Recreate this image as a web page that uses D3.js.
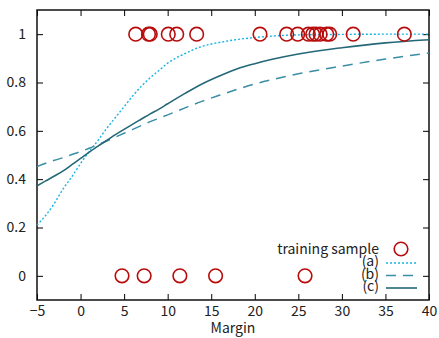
<!DOCTYPE html>
<html>
<head>
<meta charset="utf-8">
<script src="https://cdn.jsdelivr.net/npm/d3@7"></script>
<style>
  body { margin: 0; background: #fff; }
  svg { display: block; font-family: "Noto Sans CJK JP", "Noto Sans", sans-serif; }
</style>
</head>
<body>
<div id="chart"></div>
<script>
// training samples (margin, label)
const posSamples = [6.33, 7.8, 8.0, 10.07, 11.04, 13.33, 20.6, 23.66, 24.93, 26.15, 26.65, 27.03, 27.5, 28.26, 28.6, 31.3, 37.17];
const negSamples = [4.76, 7.3, 11.4, 15.5, 25.77];

const curveX = [-5, -4, -3, -2, -1, 0, 1, 2, 3, 4, 5, 6, 7, 8, 9, 10, 12, 14, 16, 18, 20, 22, 25, 30, 35, 40];
const curveA = [0.21, 0.25, 0.30, 0.36, 0.41, 0.465, 0.515, 0.56, 0.61, 0.655, 0.70, 0.745, 0.785, 0.82, 0.85, 0.88, 0.92, 0.95, 0.966, 0.978, 0.986, 0.992, 0.997, 0.999, 1.0, 1.0];
const curveB = [0.452, 0.466, 0.478, 0.489, 0.502, 0.514, 0.528, 0.543, 0.558, 0.574, 0.59, 0.606, 0.622, 0.638, 0.652, 0.666, 0.695, 0.723, 0.748, 0.772, 0.794, 0.812, 0.836, 0.868, 0.897, 0.922];
const curveC = [0.372, 0.393, 0.413, 0.434, 0.46, 0.486, 0.512, 0.537, 0.56, 0.584, 0.606, 0.628, 0.649, 0.67, 0.69, 0.712, 0.755, 0.795, 0.828, 0.857, 0.878, 0.896, 0.918, 0.944, 0.964, 0.977];

const xTicks = [-5, 0, 5, 10, 15, 20, 25, 30, 35, 40];
const yTicks = [0, 0.2, 0.4, 0.6, 0.8, 1];

const series = [
  { name: '(a)', values: curveA, color: '#19b3e3', dash: '2,2', width: 1.4 },
  { name: '(b)', values: curveB, color: '#3a8da6', dash: '10,7', width: 1.5 },
  { name: '(c)', values: curveC, color: '#246878', dash: null, width: 1.6 }
];

const width = 439, height = 338;
const margin = { top: 10, right: 10, bottom: 38, left: 37 };
const innerWidth = width - margin.left - margin.right;
const innerHeight = height - margin.top - margin.bottom;

const svg = d3.select('#chart').append('svg')
  .attr('width', width)
  .attr('height', height);

const g = svg.append('g')
  .attr('transform', `translate(${margin.left},${margin.top})`);

const x = d3.scaleLinear().domain([-5, 40]).range([0, innerWidth]);
const y = d3.scaleLinear().domain([-0.1, 1.1]).range([innerHeight, 0]);

// axes with inward ticks
const tickLen = 6;
const xAxis = g.append('g')
  .attr('transform', `translate(0,${innerHeight})`)
  .call(d3.axisBottom(x).tickValues(xTicks).tickSize(-tickLen).tickPadding(tickLen + 5).tickFormat(d => d < 0 ? '\u2212' + Math.abs(d) : d));
const xTop = g.append('g')
  .call(d3.axisTop(x).tickValues(xTicks).tickSize(-tickLen).tickFormat(''));
const yAxis = g.append('g')
  .call(d3.axisLeft(y).tickValues(yTicks).tickSize(-tickLen).tickPadding(tickLen + 5).tickFormat(d => d));
const yRight = g.append('g')
  .attr('transform', `translate(${innerWidth},0)`)
  .call(d3.axisRight(y).tickValues(yTicks).tickSize(-tickLen).tickFormat(''));

[xAxis, xTop, yAxis, yRight].forEach(axis => {
  axis.select('.domain').remove();
  axis.selectAll('line').style('stroke', '#000').style('stroke-width', 1);
  axis.selectAll('text')
    .style('fill', '#222')
    .style('font-size', '14px')
    .style('font-family', '"Noto Sans CJK JP", "Noto Sans", sans-serif');
});
xAxis.selectAll('text').attr('dy', '0.35em').attr('y', 11);

// frame
g.append('rect')
  .attr('width', innerWidth)
  .attr('height', innerHeight)
  .attr('fill', 'none')
  .attr('stroke', '#111')
  .attr('stroke-width', 1.5);

// axis label
g.append('text')
  .attr('x', innerWidth / 2)
  .attr('y', innerHeight + 33)
  .attr('text-anchor', 'middle')
  .style('fill', '#222')
  .style('font-size', '14px')
  .text('Margin');

// curves
const line = d3.line()
  .x((d, i) => x(curveX[i]))
  .y(d => y(d))
  .curve(d3.curveMonotoneX);

series.forEach(s => {
  g.append('path')
    .datum(s.values)
    .attr('fill', 'none')
    .attr('stroke', s.color)
    .attr('stroke-width', s.width)
    .attr('stroke-dasharray', s.dash)
    .attr('d', line);
});

// samples
const samples = posSamples.map(v => ({ m: v, label: 1 }))
  .concat(negSamples.map(v => ({ m: v, label: 0 })));

g.selectAll('.sample')
  .data(samples)
  .enter().append('circle')
  .attr('class', 'sample')
  .attr('cx', d => x(d.m))
  .attr('cy', d => y(d.label))
  .attr('r', 6.8)
  .attr('fill', 'none')
  .attr('stroke', '#b80c0c')
  .attr('stroke-width', 1.6);

// legend
const legend = svg.append('g')
  .attr('transform', 'translate(379, 249)');

legend.append('text')
  .attr('x', 0).attr('y', 0).attr('dy', '0.35em')
  .attr('text-anchor', 'end')
  .style('fill', '#222')
  .style('font-size', '14px')
  .text('training sample');
legend.append('circle')
  .attr('cx', 22).attr('cy', 0).attr('r', 6.8)
  .attr('fill', 'none')
  .attr('stroke', '#b80c0c')
  .attr('stroke-width', 1.6);

series.forEach((s, i) => {
  const yy = 12.5 * (i + 1);
  legend.append('text')
    .attr('x', 0).attr('y', yy).attr('dy', '0.35em')
    .attr('text-anchor', 'end')
    .style('fill', '#222')
    .style('font-size', '14px')
    .text(s.name);
  legend.append('line')
    .attr('x1', 7).attr('x2', 38)
    .attr('y1', yy + 1.5).attr('y2', yy + 1.5)
    .attr('stroke', s.color)
    .attr('stroke-width', s.width)
    .attr('stroke-dasharray', s.dash);
});
</script>
</body>
</html>
